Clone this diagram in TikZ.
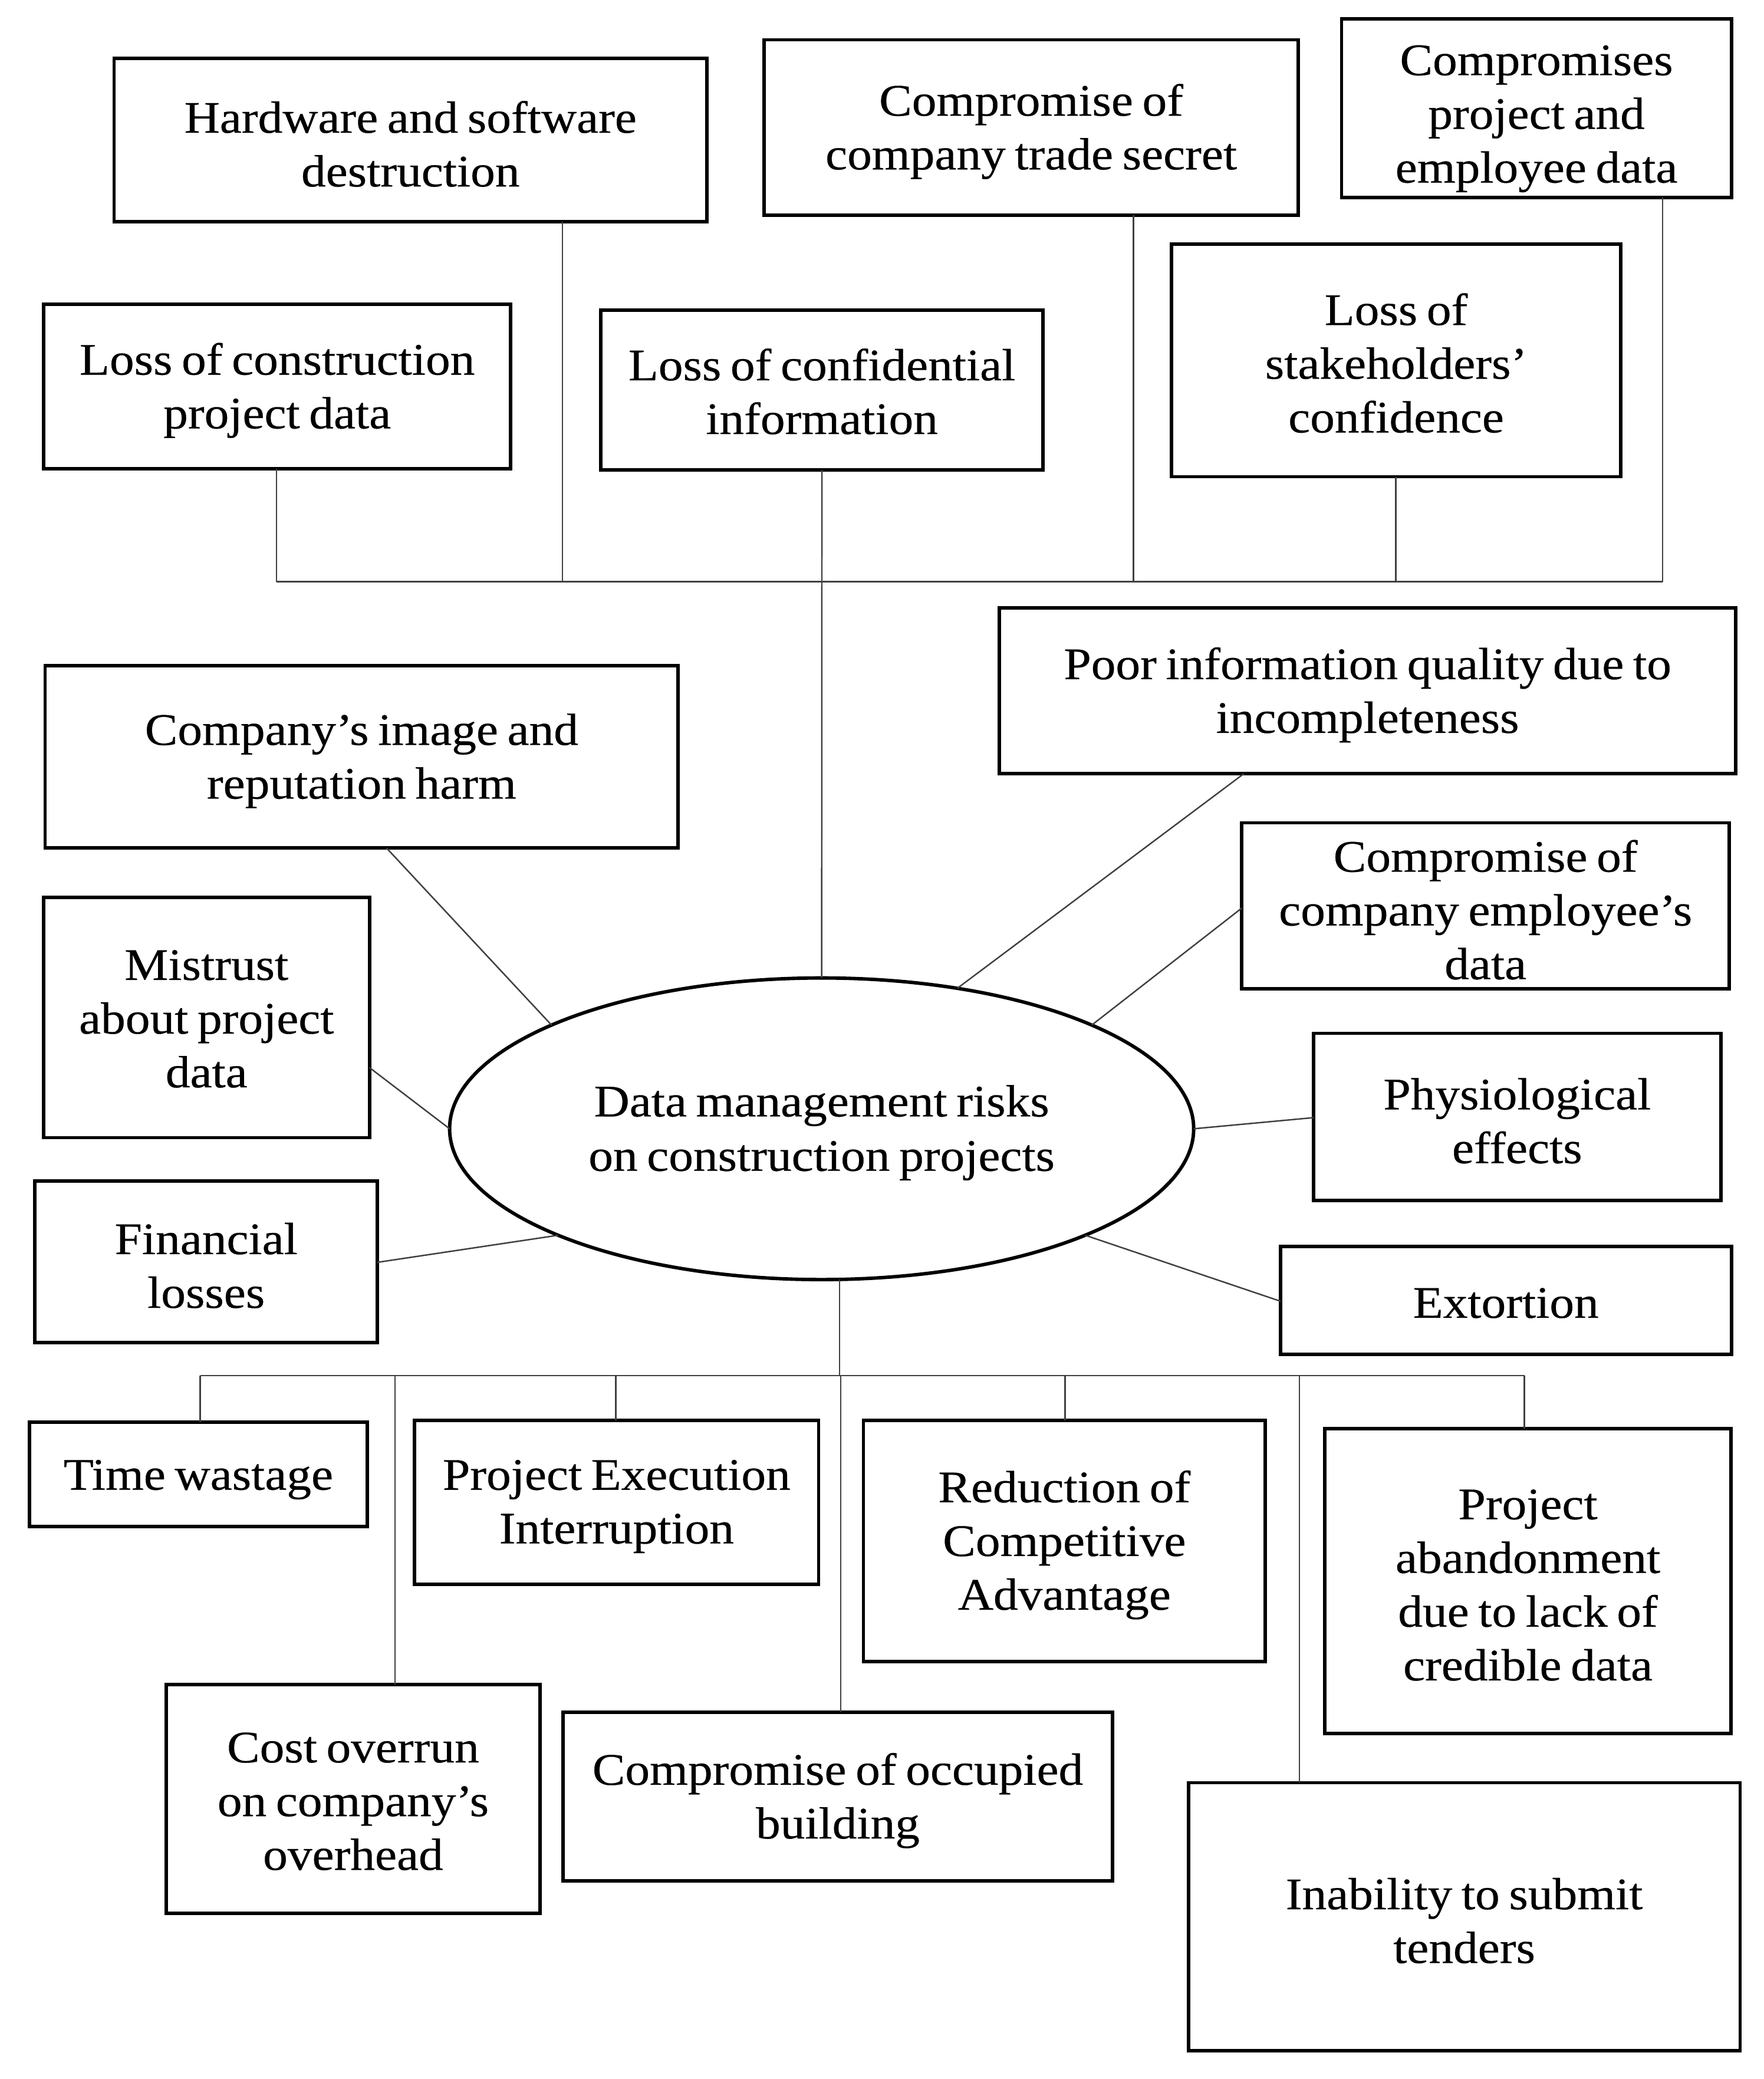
\documentclass[tikz,border=0pt]{standalone}
\usepackage{fontspec}
\setmainfont{Liberation Serif}[FakeStretch=1.09, WordSpace=0.75, FakeBold=0.4]
\usetikzlibrary{shapes.geometric}
\tikzset{
  riskbox/.style={draw=black, line width=2.6pt, inner sep=0pt, outer sep=0pt},
  risktext/.style={align=center, inner sep=0pt, font=\fontsize{34}{40.5}\selectfont},
  corenode/.style={draw=black, ellipse, line width=2.6pt, inner sep=0pt, outer sep=0pt,
    minimum width=561pt, minimum height=227.4pt},
  conn/.style={draw=black!75, line width=1.1pt}
}
\newcommand{\rbox}[7][3]{\node[riskbox, minimum width={(#5-#3)*1pt}, minimum height={(#6-#4)*1pt}]
  (#2) at ({(#3+#5)/2},{(#4+#6)/2}) {};
  \node[risktext] (#2-t) at ([yshift=-#1pt]#2.center) {#7};}
\begin{document}
\begin{tikzpicture}[x=1pt,y=-1pt]
\useasboundingbox (0,0) rectangle (1330,1567.4);
% top boxes
\rbox{hw}{86}{44}{533}{167}{Hardware and software\\destruction}
\rbox{trade}{576}{30}{979}{162.3}{Compromise of\\company trade secret}
\rbox[8]{cpe}{1011.5}{14.3}{1305.4}{148.8}{Compromises\\project and\\employee data}
\rbox{lcp}{33}{229.3}{385}{353.4}{Loss of construction\\project data}
\rbox[1]{conf}{453}{234}{786.4}{354.3}{Loss of confidential\\information}
\rbox[2]{stake}{883.3}{184}{1222}{359.4}{Loss of\\stakeholders’\\confidence}
% middle boxes
\rbox{poor}{753.5}{458.4}{1308.7}{583.4}{Poor information quality due to\\incompleteness}
\rbox{cir}{34}{502}{511.3}{639.3}{Company’s image and\\reputation harm}
\rbox{emp}{936.3}{620.3}{1303.8}{745.5}{Compromise of\\company employee’s\\data}
\rbox[1]{mis}{32.8}{676.6}{278.6}{857.7}{Mistrust\\about project\\data}
\rbox{phy}{990.4}{779}{1297.4}{905}{Physiological\\effects}
\rbox{fin}{26.4}{890.2}{284.5}{1012}{Financial\\losses}
\rbox[2]{ext}{965.4}{939.8}{1305.4}{1021}{Extortion}
% bottom boxes
\rbox[4]{tw}{22.1}{1072}{277}{1151}{Time wastage}
\rbox{pe}{312.6}{1071}{617.2}{1194.5}{Project Execution\\Interruption}
\rbox{rca}{651}{1071}{954}{1252.5}{Reduction of\\Competitive\\Advantage}
\rbox{pa}{999}{1077}{1305}{1307}{Project\\abandonment\\due to lack of\\credible data}
\rbox[2]{co}{125.5}{1269.9}{407}{1442.3}{Cost overrun\\on company’s\\overhead}
\rbox{cob}{424.5}{1291}{838.8}{1418}{Compromise of occupied\\building}
\rbox{inab}{896}{1344}{1312}{1546}{Inability to submit\\tenders}
% central ellipse
\node[corenode] (core) at (619.5,851) {};
\node[risktext, font=\fontsize{34}{41}\selectfont] (core-t) at ([yshift=-3pt]core.center)
  {Data management risks\\on construction projects};
% top bus
\coordinate (j1) at (208.4,438.6);
\coordinate (j2) at (424,438.6);
\coordinate (j3) at (854.6,438.6);
\coordinate (j4) at (1052.5,438.6);
\coordinate (j5) at (1253.5,438.6);
\draw[conn] (j1) -- (j5);
\draw[conn] (lcp.south -| j1) -- (j1);
\draw[conn] (hw.south -| j2) -- (j2);
\draw[conn] (trade.south -| j3) -- (j3);
\draw[conn] (stake.south -| j4) -- (j4);
\draw[conn] (cpe.south -| j5) -- (j5);
\draw[conn] (conf.south) -- (core.north);
% radial connectors
\draw[conn] ([xshift=257.4pt]cir.south west) -- (core.159.7);
\draw[conn] ([yshift=-128.3pt]mis.north east) -- (core.west);
\draw[conn] ([yshift=-61.5pt]fin.north east) -- (core.202.8);
\draw[conn] ([xshift=184.2pt]poor.south west) -- (core.46.25);
\draw[conn] ([yshift=-64.3pt]emp.north west) -- (core.21.8);
\draw[conn] ([yshift=-63.6pt]phy.north west) -- (core.east);
\draw[conn] ([yshift=-41.2pt]ext.north west) -- (core.-22.6);
% bottom bus
\coordinate (b0) at (633,1037);
\coordinate (b1) at (151,1037);
\coordinate (b2) at (297.8,1037);
\coordinate (b3) at (464.3,1037);
\coordinate (b4) at (634,1037);
\coordinate (b5) at (803,1037);
\coordinate (b6) at (979.7,1037);
\coordinate (b7) at (1149.4,1037);
\draw[conn] (core.south -| b0) -- (b0);
\draw[conn] (b1) -- (b7);
\draw[conn] (b1) -- (tw.north -| b1);
\draw[conn] (b2) -- (co.north -| b2);
\draw[conn] (b3) -- (pe.north -| b3);
\draw[conn] (b4) -- (cob.north -| b4);
\draw[conn] (b5) -- (rca.north -| b5);
\draw[conn] (b6) -- (inab.north -| b6);
\draw[conn] (b7) -- (pa.north -| b7);
\end{tikzpicture}
\end{document}
